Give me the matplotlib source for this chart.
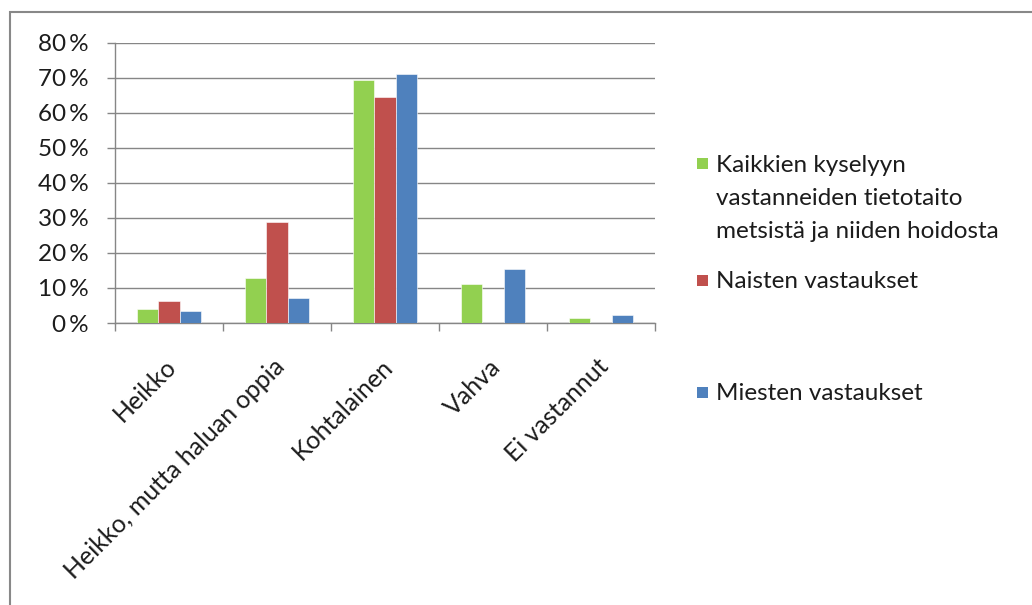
import numpy as np
import matplotlib.pyplot as plt
from matplotlib.patches import Rectangle
from matplotlib.ticker import FixedLocator

plt.rcParams['font.family'] = ['Lato', 'DejaVu Sans']

# Data (percent)
categories = ['Heikko', 'Heikko, mutta haluan oppia', 'Kohtalainen', 'Vahva', 'Ei vastannut']
kaikki = [4.1, 12.8, 69.2, 11.0, 1.5]
naiset = [6.3, 28.9, 64.5, 0.0, 0.0]
miehet = [3.3, 7.0, 71.0, 15.4, 2.2]
yticks = list(range(0, 81, 10))

series_names = [['Kaikkien kyselyyn', 'vastanneiden tietotaito', 'metsistä ja niiden hoidosta'],
                ['Naisten vastaukset'],
                ['Miesten vastaukset']]
colors = ['#92D050', '#C0504D', '#4F81BD']
grid_col = '#868686'
txt_col = '#1c1c1c'
fs = 17.5

fig = plt.figure(figsize=(10.32, 6.05), dpi=100)
ax = fig.add_axes([115 / 1032, 1 - 323 / 605, (655 - 115) / 1032, (323 - 42.5) / 605])

x = np.arange(len(categories))
w = 0.2
for i, vals in enumerate([kaikki, naiset, miehet]):
    ax.bar(x + (i - 1) * w, vals, width=w, color=colors[i], edgecolor='white',
           linewidth=0.4, zorder=3)

ax.set_xlim(-0.5, len(categories) - 0.5)
ax.set_ylim(0, 80)
ax.set_yticks(yticks)
ax.set_yticklabels([f'{v}\u2009%' for v in yticks])
ax.grid(axis='y', color=grid_col, linewidth=1.0, zorder=0)

# rotated labels: ticks of length 0 at the group centres, boundary ticks as minor
ax.set_xticks(x - 0.04)
ax.set_xticklabels(categories, rotation=45, ha='right', rotation_mode='anchor')
ax.xaxis.set_minor_locator(FixedLocator(np.arange(-0.5, len(categories), 1)))
ax.tick_params(axis='x', which='major', length=0, pad=23, labelsize=18, labelcolor=txt_col)
ax.tick_params(axis='x', which='minor', length=6, width=1, color=grid_col, direction='out')
ax.tick_params(axis='y', length=6, width=1, color=grid_col, pad=13, labelsize=fs,
               labelcolor=txt_col)

for s in ['top', 'right']:
    ax.spines[s].set_visible(False)
for s in ['left', 'bottom']:
    ax.spines[s].set_color(grid_col)
    ax.spines[s].set_linewidth(1.0)

# legend, drawn by hand (Excel style, square aligned to first line)
leg_y = [163, 280, 392]
for names, col, y0 in zip(series_names, colors, leg_y):
    fig.patches.append(Rectangle((697 / 1032, 1 - (y0 + 5.5) / 605), 11 / 1032, 11 / 605,
                                 transform=fig.transFigure, facecolor=col, edgecolor='none'))
    for k, line in enumerate(names):
        fig.text(716 / 1032, 1 - (y0 + 2 + 33.5 * k) / 605, line, fontsize=fs,
                 color=txt_col, va='center')

# chart border
fig.patches.append(Rectangle((10 / 1032, -0.05), 1.2, 1 - 12 / 605 + 0.05,
                             transform=fig.transFigure, facecolor='none',
                             edgecolor='#888888', linewidth=1.5))

fig.savefig('out.png', dpi=100)
